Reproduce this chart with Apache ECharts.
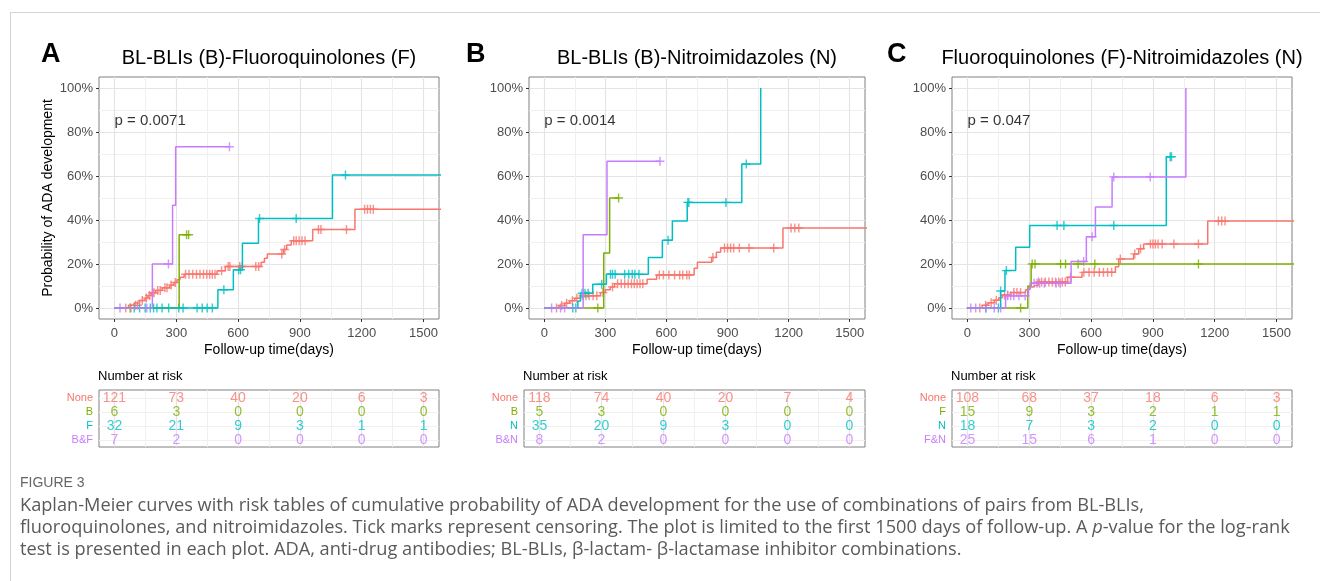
<!DOCTYPE html>
<html>
<head>
<meta charset="utf-8">
<script src="https://cdn.jsdelivr.net/npm/echarts@6.0.0/dist/echarts.min.js"></script>
<style>
  html, body { margin: 0; padding: 0; background: #fff; }
  #frame { position: absolute; left: 10px; top: 12px; right: -2px; bottom: -2px;
           border-left: 1px solid #d4d4d4; border-top: 1px solid #d4d4d4; }
  #chart { position: absolute; left: 0; top: 0; width: 1320px; height: 581px; }
</style>
</head>
<body>
<div id="frame"></div>
<div id="chart"></div>
<script>
// group colours (ggplot default hues): None, drug 1, drug 2, both
const COLORS = ['#F8766D', '#7CAE00', '#00BFC4', '#C77CFF']

const TITLES = ['BL-BLIs (B)-Fluoroquinolones (F)', 'BL-BLIs (B)-Nitroimidazoles (N)', 'Fluoroquinolones (F)-Nitroimidazoles (N)']
const LETTERS = ['A', 'B', 'C']
const P_VALUES = ['p = 0.0071', 'p = 0.0014', 'p = 0.047']
const ROW_NAMES = [['None', 'B', 'F', 'B&F'], ['None', 'B', 'N', 'B&N'], ['None', 'F', 'N', 'F&N']]

const X_BREAKS = [0, 300, 600, 900, 1200, 1500]
const X_MINOR = [150, 450, 750, 1050, 1350]
const Y_BREAKS = [0, 20, 40, 60, 80, 100]
const Y_MINOR = [10, 30, 50, 70, 90]
const RISK_TIMES = [0, 300, 600, 900, 1200, 1500]

// ---- panel A: [day, cumulative %] step points and censor marks
const A_NONE = [[0, 0], [68, 1.2], [95, 2.3], [122, 3.4], [148, 4.5], [163, 5.7], [178, 6.9], [200, 8.0], [232, 9.2], [268, 10.4], [288, 11.6], [303, 12.8], [318, 14.0], [338, 15.3], [498, 16.9], [538, 18.9], [712, 20.8], [728, 22.6], [742, 24.5], [820, 26.6], [836, 28.6], [858, 30.6], [962, 35.7], [1167, 44.9], [1600, 44.9]]
const A_NONE_CENS = [[55, 0], [80, 0], [102, 1.2], [112, 1.2], [135, 3.4], [155, 4.5], [170, 5.7], [185, 6.9], [192, 6.9], [210, 8.0], [222, 8.0], [245, 9.2], [255, 9.2], [275, 10.4], [295, 11.6], [345, 15.3], [362, 15.3], [380, 15.3], [398, 15.3], [415, 15.3], [432, 15.3], [448, 15.3], [462, 15.3], [475, 15.3], [488, 15.3], [520, 16.9], [552, 18.9], [560, 18.9], [608, 18.9], [620, 18.9], [686, 18.9], [700, 18.9], [812, 24.5], [826, 26.6], [870, 30.6], [882, 30.6], [896, 30.6], [910, 30.6], [925, 30.6], [990, 35.7], [1002, 35.7], [1126, 35.7], [1214, 44.9], [1228, 44.9], [1242, 44.9], [1256, 44.9]]
const A_B = [[0, 0], [314, 33.3], [362, 33.3]]
const A_B_CENS = [[76, 0], [350, 33.3], [360, 33.3]]
const A_F = [[0, 0], [502, 8.3], [577, 17.4], [621, 29.4], [699, 40.7], [1058, 60.4], [1600, 60.4]]
const A_F_CENS = [[96, 0], [122, 0], [149, 0], [174, 0], [190, 0], [206, 0], [231, 0], [263, 0], [312, 0], [333, 0], [401, 0], [426, 0], [450, 0], [475, 0], [531, 8.3], [603, 17.4], [612, 17.4], [704, 40.7], [882, 40.7], [1121, 60.4]]
const A_BF = [[0, 0], [184, 20], [282, 46.7], [297, 73.3], [560, 73.3]]
const A_BF_CENS = [[27, 0], [157, 0], [262, 20], [558, 73.3]]

// ---- panel B
const B_NONE = [[0, 0], [72, 1.1], [100, 2.2], [125, 3.3], [150, 4.4], [178, 5.6], [276, 7.0], [300, 8.3], [324, 9.6], [345, 11.0], [505, 13.1], [552, 15.0], [736, 18.1], [752, 20.8], [822, 23.0], [845, 25.3], [866, 27.3], [1172, 36.4], [1600, 36.4]]
const B_NONE_CENS = [[60, 0], [85, 1.1], [110, 2.2], [138, 3.3], [160, 4.4], [190, 5.6], [205, 5.6], [220, 5.6], [240, 5.6], [258, 5.6], [288, 7.0], [335, 9.6], [360, 11.0], [378, 11.0], [395, 11.0], [412, 11.0], [428, 11.0], [442, 11.0], [456, 11.0], [470, 11.0], [484, 11.0], [565, 15.0], [585, 15.0], [612, 15.0], [640, 15.0], [665, 15.0], [680, 15.0], [700, 15.0], [712, 15.0], [828, 23.0], [885, 27.3], [900, 27.3], [915, 27.3], [930, 27.3], [958, 27.3], [1005, 27.3], [1127, 27.3], [1212, 36.4], [1230, 36.4], [1250, 36.4]]
const B_B = [[0, 0], [292, 25], [321, 50], [368, 50]]
const B_B_CENS = [[263, 0], [365, 50]]
const B_N = [[0, 0], [165, 3.2], [178, 6.7], [238, 10.8], [305, 15.3], [511, 23.0], [580, 30.8], [629, 39.6], [702, 48.0], [970, 65.4], [1063, 100]]
const B_N_CENS = [[140, 0], [155, 0], [186, 6.7], [200, 6.7], [215, 6.7], [282, 10.8], [325, 15.3], [335, 15.3], [348, 15.3], [395, 15.3], [415, 15.3], [432, 15.3], [445, 15.3], [465, 15.3], [608, 30.8], [705, 48.0], [710, 48.0], [892, 48.0], [992, 65.4]]
const B_BN = [[0, 0], [191, 33.3], [308, 66.7], [570, 66.7]]
const B_BN_CENS = [[36, 0], [80, 0], [100, 0], [568, 66.7]]

// ---- panel C
const C_NONE = [[0, 0], [72, 1.2], [100, 2.4], [130, 3.5], [152, 4.7], [169, 5.9], [210, 7.0], [282, 8.3], [300, 9.6], [318, 10.5], [339, 11.8], [486, 14.0], [556, 16.2], [718, 18.8], [734, 22.3], [806, 24.6], [831, 26.9], [855, 29.1], [1166, 39.5], [1600, 39.5]]
const C_NONE_CENS = [[60, 0], [88, 1.2], [115, 2.4], [140, 3.5], [180, 5.9], [195, 5.9], [225, 7.0], [240, 7.0], [258, 7.0], [345, 11.8], [360, 11.8], [378, 11.8], [395, 11.8], [412, 11.8], [428, 11.8], [443, 11.8], [460, 11.8], [475, 11.8], [500, 14.0], [565, 16.2], [590, 16.2], [615, 16.2], [640, 16.2], [660, 16.2], [680, 16.2], [700, 16.2], [742, 22.3], [812, 24.6], [840, 26.9], [888, 29.1], [900, 29.1], [912, 29.1], [925, 29.1], [945, 29.1], [1002, 29.1], [1121, 29.1], [1218, 39.5], [1234, 39.5], [1250, 39.5]]
const C_F = [[0, 0], [293, 10], [309, 20], [1600, 20]]
const C_F_CENS = [[258, 0], [314, 20], [328, 20], [452, 20], [476, 20], [537, 20], [618, 20], [1121, 20]]
const C_N = [[0, 0], [161, 7.7], [182, 17.0], [234, 27.6], [302, 37.5], [965, 68.75], [990, 68.75]]
const C_N_CENS = [[89, 0], [150, 0], [161, 7.7], [189, 17.0], [435, 37.5], [468, 37.5], [710, 37.5], [984, 68.75], [990, 68.75]]
const C_FN = [[0, 0], [185, 5.6], [295, 8.5], [305, 11.3], [503, 21.1], [577, 32.4], [621, 45.9], [702, 59.6], [1060, 100]]
const C_FN_CENS = [[16, 0], [40, 0], [90, 0], [130, 0], [161, 0], [195, 5.6], [210, 5.6], [225, 5.6], [250, 5.6], [280, 5.6], [323, 11.3], [338, 11.3], [350, 11.3], [373, 11.3], [430, 11.3], [450, 11.3], [564, 21.1], [605, 32.4], [710, 59.6], [887, 59.6]]

// ---- number at risk (rows: None, drug 1, drug 2, both)
const A_RISK = [[121, 73, 40, 20, 6, 3], [6, 3, 0, 0, 0, 0], [32, 21, 9, 3, 1, 1], [7, 2, 0, 0, 0, 0]]
const B_RISK = [[118, 74, 40, 20, 7, 4], [5, 3, 0, 0, 0, 0], [35, 20, 9, 3, 0, 0], [8, 2, 0, 0, 0, 0]]
const C_RISK = [[108, 68, 37, 18, 6, 3], [15, 9, 3, 2, 1, 1], [18, 7, 3, 2, 0, 0], [25, 15, 6, 1, 0, 0]]

const CURVES = [
  [[A_NONE, A_NONE_CENS], [A_B, A_B_CENS], [A_F, A_F_CENS], [A_BF, A_BF_CENS]],
  [[B_NONE, B_NONE_CENS], [B_B, B_B_CENS], [B_N, B_N_CENS], [B_BN, B_BN_CENS]],
  [[C_NONE, C_NONE_CENS], [C_F, C_F_CENS], [C_N, C_N_CENS], [C_FN, C_FN_CENS]]
]
const RISKS = [A_RISK, B_RISK, C_RISK]

// layout (pixels)
const PLOT_BOX = [
  { left: 99, top: 77, width: 340, height: 242 },
  { left: 529, top: 77, width: 336, height: 242 },
  { left: 952, top: 77, width: 340, height: 242 }
]
const TABLE_BOX = [
  { left: 99, top: 390, width: 340, height: 57 },
  { left: 524, top: 390, width: 341, height: 57 },
  { left: 952, top: 390, width: 340, height: 57 }
]

const FONT = '"Liberation Sans", Arial, sans-serif'
const CAP_FONT = '"Open Sans", "Liberation Sans", sans-serif'
const MAJOR = '#e4e4e4'
const MINOR = '#f0f0f0'
const BORDER = '#808080'
const CROSS = 'path://M4.2,0H5.8V4.2H10V5.8H5.8V10H4.2V5.8H0V4.2H4.2Z'

const chart = echarts.init(document.getElementById('chart'), null, { renderer: 'canvas' })

const grid = []
const xAxis = []
const yAxis = []
const series = []
const graphic = []

const xPair = (gi, labels) => [
  {
    type: 'value', gridIndex: gi, min: -75, max: 1575, position: 'bottom',
    axisLine: { show: false, onZero: false },
    axisTick: { show: labels, customValues: X_BREAKS, length: 3, lineStyle: { color: '#333' } },
    axisLabel: { show: labels, customValues: X_BREAKS, formatter: v => String(v), color: '#4d4d4d', fontSize: 13, margin: 8, fontFamily: FONT },
    splitLine: { show: true, lineStyle: { color: MAJOR, width: 1.2 } },
    name: labels ? 'Follow-up time(days)' : '', nameLocation: 'middle', nameGap: 24,
    nameTextStyle: { color: '#000', fontSize: 14, fontFamily: FONT }
  },
  {
    type: 'value', gridIndex: gi, min: -75, max: 1575, position: 'top',
    axisLine: { show: false, onZero: false },
    axisTick: { show: false, customValues: X_MINOR },
    axisLabel: { show: false },
    splitLine: { show: true, lineStyle: { color: MINOR, width: 1 } }
  }
]

for (let p = 0; p < 3; p++) {
  grid.push({ ...PLOT_BOX[p], show: true, borderColor: BORDER, borderWidth: 1, backgroundColor: 'transparent', outerBoundsMode: 'none' })
  grid.push({ ...TABLE_BOX[p], show: true, borderColor: BORDER, borderWidth: 1, backgroundColor: 'transparent', outerBoundsMode: 'none' })

  xAxis.push(...xPair(2 * p, true), ...xPair(2 * p + 1, false))

  yAxis.push({
    type: 'value', gridIndex: 2 * p, min: -5, max: 105, position: 'left',
    axisLine: { show: false, onZero: false },
    axisTick: { show: true, customValues: Y_BREAKS, length: 3, lineStyle: { color: '#333' } },
    axisLabel: { customValues: Y_BREAKS, formatter: v => v + '%', color: '#4d4d4d', fontSize: 13, margin: 6, fontFamily: FONT },
    splitLine: { show: true, lineStyle: { color: MAJOR, width: 1.2 } },
    name: p === 0 ? 'Probability of ADA development' : '', nameLocation: 'middle', nameGap: 44,
    nameTextStyle: { color: '#000', fontSize: 14, fontFamily: FONT }
  })
  yAxis.push({
    type: 'value', gridIndex: 2 * p, min: -5, max: 105, position: 'right',
    axisLine: { show: false, onZero: false },
    axisTick: { show: false, customValues: Y_MINOR },
    axisLabel: { show: false },
    splitLine: { show: true, lineStyle: { color: MINOR, width: 1 } }
  })
  const names = ROW_NAMES[p]
  yAxis.push({
    type: 'value', gridIndex: 2 * p + 1, min: 0.43, max: 4.5, inverse: true, position: 'left',
    axisLine: { show: false, onZero: false },
    axisTick: { show: false, customValues: [1, 2, 3, 4] },
    axisLabel: {
      customValues: [1, 2, 3, 4], formatter: v => names[v - 1], fontSize: 11, margin: 6, fontFamily: FONT,
      color: v => COLORS[Number(v) - 1]
    },
    splitLine: { show: true, lineStyle: { color: MINOR, width: 1 } }
  })

  const xi = 4 * p, yi = 3 * p
  // step curves first, censor marks on top (like survminer)
  CURVES[p].forEach((c, g) => {
    series.push({
      type: 'line', xAxisIndex: xi, yAxisIndex: yi, data: c[0], step: 'end',
      symbol: 'none', clip: true, silent: true,
      lineStyle: { color: COLORS[g], width: 1.5 }, itemStyle: { color: COLORS[g] }
    })
  })
  CURVES[p].forEach((c, g) => {
    series.push({
      type: 'scatter', xAxisIndex: xi, yAxisIndex: yi, data: c[1], symbol: CROSS, symbolSize: 9,
      silent: true, itemStyle: { color: COLORS[g] }
    })
  })
  // p-value text anchored at day 0, 85 %
  series.push({
    type: 'scatter', xAxisIndex: xi, yAxisIndex: yi, data: [[0, 85]], symbolSize: 0, silent: true,
    label: { show: true, position: 'right', distance: 0, formatter: P_VALUES[p], color: '#000', fontSize: 15, fontFamily: FONT }
  })
  // risk table numbers
  RISKS[p].forEach((row, r) => {
    series.push({
      type: 'scatter', xAxisIndex: xi + 2, yAxisIndex: yi + 2, symbolSize: 0, silent: true,
      data: RISK_TIMES.map((t, i) => [t, r + 1, row[i]]),
      label: { show: true, position: 'inside', formatter: d => d.value[2], color: COLORS[r], fontSize: 14, fontFamily: FONT }
    })
  })

  const box = PLOT_BOX[p]
  graphic.push({
    type: 'text', x: [41, 466, 887][p], y: 55,
    style: { text: LETTERS[p], font: 'bold 27px ' + FONT, fill: '#000', textVerticalAlign: 'middle' }
  })
  graphic.push({
    type: 'text', x: box.left + box.width / 2, y: 58,
    style: { text: TITLES[p], font: '20px ' + FONT, fill: '#000', textAlign: 'center', textVerticalAlign: 'middle' }
  })
  graphic.push({
    type: 'text', x: TABLE_BOX[p].left - 1, y: 376,
    style: { text: 'Number at risk', font: '13px ' + FONT, fill: '#000', textVerticalAlign: 'middle' }
  })
}

// caption
const CAPTION = [
  'Kaplan-Meier curves with risk tables of cumulative probability of ADA development for the use of combinations of pairs from BL-BLIs,',
  'fluoroquinolones, and nitroimidazoles. Tick marks represent censoring. The plot is limited to the first 1500 days of follow-up. A {i|p}-value for the log-rank',
  'test is presented in each plot. ADA, anti-drug antibodies; BL-BLIs, β-lactam- β-lactamase inhibitor combinations.'
]
graphic.push({
  type: 'text', x: 20, y: 483,
  style: { text: 'FIGURE 3', font: '14px "Liberation Sans Narrow", ' + FONT, fill: '#666', textVerticalAlign: 'middle' }
})
CAPTION.forEach((line, i) => {
  graphic.push({
    type: 'text', x: 20, y: 505.5 + i * 22,
    style: {
      text: line, font: '18.2px ' + CAP_FONT, fill: '#5a5a5a', textVerticalAlign: 'middle',
      rich: { i: { fontStyle: 'italic', fontSize: 18.2, fontFamily: CAP_FONT, fill: '#5a5a5a' } }
    }
  })
})

chart.setOption({
  animation: false,
  backgroundColor: 'transparent',
  textStyle: { fontFamily: FONT },
  grid, xAxis, yAxis, series, graphic
})
</script>
</body>
</html>
